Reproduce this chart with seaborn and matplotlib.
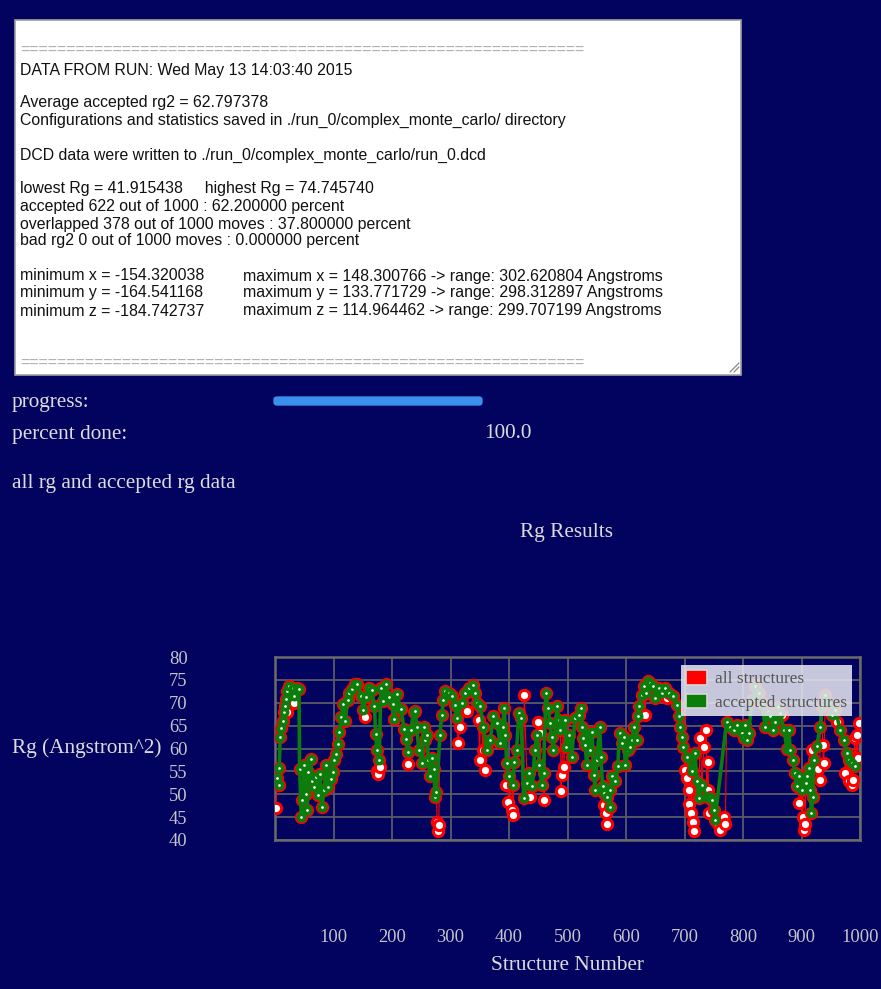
import matplotlib
matplotlib.use("Agg")
import matplotlib.pyplot as plt
import numpy as np
import pandas as pd
import seaborn as sns
from matplotlib.patches import Rectangle, FancyBboxPatch, Patch
from matplotlib.lines import Line2D

# ---- Rg trajectory: accepted structures (structure number, Rg) ----
accepted_struct = [4, 6, 7, 9, 11, 13, 15, 17, 18, 21, 24, 30, 32, 38, 41, 42, 45, 47, 50, 53,
                   55, 57, 61, 63, 67, 70, 74, 77, 80, 84, 88, 91, 95, 99, 101, 104, 107, 110, 113, 117,
                   120, 124, 127, 131, 137, 141, 147, 151, 155, 161, 165, 170, 172, 174, 178, 181, 185, 190, 195, 201,
                   204, 208, 215, 221, 224, 227, 232, 237, 240, 242, 246, 251, 254, 257, 260, 262, 265, 268, 271, 274,
                   276, 282, 285, 288, 291, 297, 302, 307, 311, 319, 325, 331, 339, 342, 345, 351, 356, 362, 368, 373,
                   379, 385, 389, 392, 394, 396, 400, 406, 409, 413, 417, 421, 425, 431, 435, 440, 444, 448, 452, 456,
                   459, 463, 467, 470, 473, 476, 482, 485, 488, 493, 496, 498, 502, 507, 513, 519, 523, 525, 527, 530,
                   533, 536, 539, 542, 545, 547, 550, 555, 557, 560, 562, 567, 572, 573, 576, 582, 586, 589, 593, 596,
                   599, 604, 607, 610, 614, 618, 620, 623, 627, 630, 634, 637, 641, 647, 650, 656, 662, 667, 673, 681,
                   687, 690, 693, 696, 698, 704, 712, 718, 721, 724, 730, 738, 744, 747, 750, 752, 772, 778, 784, 790,
                   798, 801, 804, 807, 810, 815, 821, 827, 832, 838, 843, 847, 852, 855, 860, 864, 870, 875, 878, 881,
                   885, 889, 892, 895, 901, 907, 910, 912, 915, 917, 919, 921, 926, 932, 935, 941, 947, 952, 958, 966,
                   972, 978, 982, 986, 992]
accepted_rg = [53.5, 52.0, 55.8, 62.5, 64.5, 66.0, 68.0, 69.3, 70.8, 72.6, 73.7, 73.3, 71.5, 73.2, 73.0, 55.6, 45.0, 48.7, 56.3, 50.1,
               46.5, 54.9, 57.8, 53.0, 51.6, 53.8, 49.8, 54.5, 47.2, 50.9, 56.3, 51.6, 53.4, 54.9, 57.4, 58.8, 61.0, 63.5, 66.8, 69.7,
               66.0, 70.5, 72.2, 72.9, 74.0, 74.2, 71.5, 68.5, 71.2, 73.3, 72.8, 69.3, 63.2, 59.6, 57.4, 73.3, 70.4, 74.0, 71.2, 69.7,
               66.5, 71.9, 68.6, 64.3, 62.1, 59.2, 64.0, 68.0, 68.1, 64.8, 59.7, 56.8, 64.8, 61.9, 63.0, 57.5, 53.9, 57.9, 55.5, 49.5,
               50.6, 63.0, 67.4, 70.7, 72.5, 72.1, 71.4, 69.6, 66.6, 69.9, 72.1, 73.2, 73.9, 72.1, 70.0, 69.2, 64.8, 59.7, 61.9, 67.0,
               65.5, 61.2, 64.8, 68.8, 63.0, 56.8, 53.9, 52.0, 57.0, 59.7, 67.7, 66.6, 49.1, 52.4, 54.6, 51.7, 59.7, 63.0, 56.4, 52.0,
               54.6, 72.1, 68.8, 65.5, 62.6, 59.7, 69.2, 66.3, 64.0, 66.0, 66.3, 60.4, 63.0, 58.2, 66.6, 67.4, 68.8, 64.8, 62.3, 60.8,
               56.4, 63.4, 59.7, 63.7, 54.2, 51.0, 57.5, 64.8, 58.2, 51.7, 50.2, 49.5, 47.3, 51.0, 53.9, 52.8, 56.1, 63.4, 61.2, 62.6,
               56.4, 59.7, 60.4, 61.9, 64.8, 61.9, 67.0, 69.2, 71.8, 73.6, 72.1, 74.7, 74.3, 73.6, 71.0, 73.2, 72.1, 73.2, 72.1, 71.4,
               69.6, 67.0, 64.8, 62.6, 60.4, 58.2, 55.0, 59.0, 52.8, 49.1, 52.0, 49.5, 49.5, 48.8, 46.6, 44.4, 65.9, 64.8, 64.0, 65.2,
               63.4, 62.3, 65.2, 61.9, 63.4, 70.7, 73.6, 72.1, 70.0, 64.8, 68.0, 67.0, 64.0, 65.8, 69.0, 67.7, 64.1, 60.0, 64.1, 59.7,
               57.5, 54.6, 51.7, 53.9, 51.0, 52.4, 54.0, 55.7, 51.0, 45.8, 49.5, 57.5, 60.5, 64.8, 69.2, 71.8, 70.0, 67.4, 68.5, 64.1,
               61.9, 59.0, 57.5, 56.8, 56.1]

# ---- overlapped (rejected) moves ----
rejected_struct = [1, 20, 33, 153, 175, 176, 180, 228, 277, 279, 280, 313, 316, 328, 348, 350, 355, 359, 395, 399,
                   405, 407, 426, 436, 449, 453, 460, 489, 490, 494, 563, 565, 568, 633, 670, 701, 705, 707, 708, 711,
                   714, 716, 727, 733, 737, 740, 741, 742, 758, 761, 767, 770, 867, 896, 902, 904, 906, 918, 929, 931,
                   936, 938, 961, 975, 981, 987, 988, 991, 995, 996, 998]
rejected_rg = [47.0, 68.0, 70.0, 66.8, 55.0, 54.5, 56.0, 56.6, 44.0, 42.0, 43.3, 61.3, 64.8, 68.2, 66.3, 57.5, 59.7, 55.3, 52.0, 48.4,
               46.6, 45.5, 71.7, 49.5, 65.9, 63.4, 48.7, 50.8, 54.2, 56.0, 47.7, 45.8, 43.5, 67.4, 71.0, 55.3, 53.5, 50.9, 47.8, 45.8,
               44.0, 41.9, 62.3, 60.4, 64.1, 57.0, 51.0, 45.8, 43.6, 42.2, 45.1, 43.6, 67.4, 48.0, 45.1, 42.2, 43.6, 59.7, 55.5, 53.1,
               60.8, 56.8, 65.9, 54.6, 52.8, 52.0, 53.1, 62.3, 63.0, 57.9, 65.5]

x_ticks = [100, 200, 300, 400, 500, 600, 700, 800, 900, 1000]
y_ticks = [40, 45, 50, 55, 60, 65, 70, 75, 80]

run_log = [
    ("=" * 61, 50),
    ("DATA FROM RUN: Wed May 13 14:03:40 2015", 70),
    ("Average accepted rg2 = 62.797378", 102),
    ("Configurations and statistics saved in ./run_0/complex_monte_carlo/ directory", 120),
    ("DCD data were written to ./run_0/complex_monte_carlo/run_0.dcd", 155),
    ("lowest Rg = 41.915438     highest Rg = 74.745740", 188),
    ("accepted 622 out of 1000 : 62.200000 percent", 206),
    ("overlapped 378 out of 1000 moves : 37.800000 percent", 224),
    ("bad rg2 0 out of 1000 moves : 0.000000 percent", 241),
    ("minimum x = -154.320038", 276),
    ("minimum y = -164.541168", 293),
    ("minimum z = -184.742737", 311),
    ("=" * 61, 363),
]
range_log = [
    ("maximum x = 148.300766 -> range: 302.620804 Angstroms", 276),
    ("maximum y = 133.771729 -> range: 298.312897 Angstroms", 293),
    ("maximum z = 114.964462 -> range: 299.707199 Angstroms", 311),
]

W, H = 881, 989
BG = "#02025f"
TXT = "#dcdcdc"
SERIF = 15.3
LOG = 11.4

sns.set_theme(style="darkgrid")
plt.rcParams["font.family"] = ["Liberation Serif", "DejaVu Serif"]

fig = plt.figure(figsize=(W / 100, H / 100), dpi=100, facecolor=BG)


def fx(x):
    return x / W


def fy(y):
    return 1 - y / H


# ---- log text area ----
fig.patches.append(Rectangle((fx(15), fy(375)), (741 - 15) / W, (375 - 20) / H,
                             transform=fig.transFigure, facecolor="white",
                             edgecolor="#a0a0a0", lw=1.2, zorder=0))
for line, y in run_log:
    col = "#b0b0b0" if line.startswith("=") else "#111111"
    fig.text(fx(20), fy(y), line, fontsize=LOG, color=col, va="center", ha="left",
             family=["Liberation Sans", "DejaVu Sans"])
for line, y in range_log:
    fig.text(fx(243), fy(y), line, fontsize=LOG, color="#111111", va="center", ha="left",
             family=["Liberation Sans", "DejaVu Sans"])
for d in (0, 4):
    fig.lines.append(Line2D([fx(730 + d), fx(739)], [fy(372), fy(363 + d)],
                            transform=fig.transFigure, color="#888888", lw=0.9))

# ---- progress block ----
fig.text(fx(12), fy(403), "progress:", fontsize=SERIF, color=TXT, va="center")
fig.patches.append(FancyBboxPatch((fx(276), fy(403)), (480 - 276) / W, 4 / H,
                                  boxstyle="round,pad=0.003,rounding_size=0.004",
                                  transform=fig.transFigure, facecolor="#3a90ec",
                                  edgecolor="none", mutation_aspect=W / H))
fig.text(fx(12), fy(434), "percent done:", fontsize=SERIF, color=TXT, va="center")
fig.text(fx(484), fy(434), "100.0", fontsize=SERIF, color=TXT, va="center")
fig.text(fx(12), fy(484), "all rg and accepted rg data", fontsize=SERIF, color=TXT, va="center")
fig.text(fx(566), fy(532), "Rg Results", fontsize=SERIF, color=TXT, va="center", ha="center")

# ---- Rg plot ----
ax = fig.add_axes([fx(275), fy(840), (860 - 275) / W, (840 - 657) / H])
ax.set_facecolor(BG)

acc = pd.DataFrame({"structure": accepted_struct, "rg": accepted_rg})
rej = pd.DataFrame({"structure": rejected_struct, "rg": rejected_rg})
all_df = pd.concat([acc, rej]).sort_values("structure").reset_index(drop=True)

sns.lineplot(data=all_df, x="structure", y="rg", ax=ax, estimator=None, sort=True,
             color="#ff0000", lw=0.8, marker="o", markersize=7.4,
             markerfacecolor="white", markeredgecolor="#ff0000", markeredgewidth=2.2,
             legend=False, zorder=3)
sns.lineplot(data=acc, x="structure", y="rg", ax=ax, estimator=None, sort=True,
             color="#0a7d0a", lw=2.6, marker="o", markersize=4.6,
             markerfacecolor="white", markeredgecolor="#0a7d0a", markeredgewidth=2.6,
             legend=False, zorder=4)

ax.set_xlim(0, 1000)
ax.set_ylim(40, 80)
ax.set_xticks(x_ticks)
ax.set_yticks(y_ticks)
ax.set_xticklabels([str(t) for t in x_ticks])
ax.set_yticklabels([str(t) for t in y_ticks])
ax.tick_params(axis="x", length=0, pad=64, labelsize=13.3, labelcolor="#c4c4cc")
ax.tick_params(axis="y", length=0, pad=63, labelsize=13.3, labelcolor="#c4c4cc")
ax.grid(True, color="#5a5a66", lw=1.3)
for s in ax.spines.values():
    s.set_visible(True)
    s.set_color("#6a6a6a")
    s.set_linewidth(1.8)
ax.set_xlabel("")
ax.set_ylabel("")

fig.text(fx(12), fy(748), "Rg (Angstrom^2)", fontsize=SERIF, color=TXT, va="center")
fig.text(fx(567), fy(965), "Structure Number", fontsize=SERIF, color=TXT, va="center", ha="center")

handles = [Patch(facecolor="#ff0000", edgecolor="#d8d8d8", lw=1.2),
           Patch(facecolor="#0a7d0a", edgecolor="#d8d8d8", lw=1.2)]
leg = ax.legend(handles, ["all structures", "accepted structures"], loc="upper right",
                bbox_to_anchor=(0.986, 0.956), borderaxespad=0, fontsize=12.4,
                frameon=True, fancybox=False, handlelength=1.2, handleheight=0.9,
                handletextpad=0.45, borderpad=0.3, labelspacing=0.4)
leg.get_frame().set_facecolor("#e8e8f2")
leg.get_frame().set_alpha(0.86)
leg.get_frame().set_edgecolor("none")
for t in leg.get_texts():
    t.set_color("#555555")
leg.set_zorder(10)

fig.savefig("out.png", dpi=100, facecolor=BG)
